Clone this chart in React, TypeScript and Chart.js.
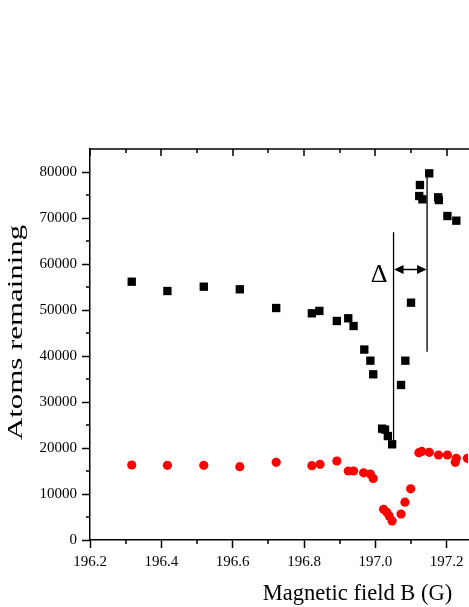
import React, { useEffect, useRef } from 'react';
import { Chart, registerables } from 'chart.js';

Chart.register(...registerables);

// ---- Data ----
const blackField = [
  196.317, 196.417, 196.519, 196.620, 196.722, 196.822, 196.843, 196.892, 196.924, 196.939,
  196.969, 196.986, 196.994, 197.019, 197.027, 197.035, 197.047, 197.072, 197.084, 197.100,
  197.123, 197.125, 197.132, 197.151, 197.176, 197.178, 197.202, 197.227,
];
const blackAtoms = [
  56150, 54130, 55070, 54500, 50430, 49280, 49800, 47610, 48200, 46520,
  41400, 38980, 36020, 24200, 24000, 22600, 20800, 33700, 38980, 51590,
  74780, 77170, 74060, 79710, 74500, 73900, 70430, 69420,
];
const redField = [
  196.317, 196.417, 196.519, 196.620, 196.722, 196.822, 196.845, 196.892, 196.924, 196.939,
  196.967, 196.986, 196.994, 197.023, 197.032, 197.039, 197.047, 197.072, 197.083, 197.099,
  197.122, 197.130, 197.151, 197.177, 197.202, 197.227, 197.224, 197.258,
];
const redAtoms = [
  16300, 16240, 16240, 15940, 16880, 16150, 16460, 17170, 15000, 15000,
  14600, 14330, 13360, 6670, 6010, 5200, 4150, 5650, 8220, 11120,
  18980, 19250, 19070, 18480, 18480, 17760, 16890, 17760,
];

const xMajorTicks = [196.2, 196.4, 196.6, 196.8, 197.0, 197.2];
const xMinorTicks = [196.3, 196.5, 196.7, 196.9, 197.1];
const yMajorTicks = [0, 10000, 20000, 30000, 40000, 50000, 60000, 70000, 80000];
const yMinorTicks = [5000, 15000, 25000, 35000, 45000, 55000, 65000, 75000];

// Δ annotation (data coordinates)
const deltaLeftB = 197.051;
const deltaLeftSpan = [20900, 66900];
const deltaRightB = 197.145;
const deltaRightSpan = [40900, 79800];
const deltaArrowAtoms = 58800;

const xTitle = 'Magnetic field B (G)';
const yTitle = 'Atoms remaining';
const deltaLabel = 'Δ';

const SERIF = '"Liberation Serif", "Times New Roman", serif';

const overlayPlugin = {
  id: 'overlay',
  afterDraw(chart: any) {
    const { ctx, chartArea, scales } = chart;
    const xs = scales.x;
    const ys = scales.y;
    const { left, right, top, bottom } = chartArea;
    ctx.save();
    ctx.strokeStyle = '#000';
    ctx.fillStyle = '#000';
    ctx.lineWidth = 1.5;
    // top frame with inward ticks
    ctx.beginPath();
    ctx.moveTo(left - 0.75, top);
    ctx.lineTo(right + 6, top);
    ctx.stroke();
    ctx.beginPath();
    xMajorTicks.forEach((v) => {
      const px = Math.round(xs.getPixelForValue(v));
      ctx.moveTo(px, top);
      ctx.lineTo(px, top + 7);
    });
    xMinorTicks.forEach((v) => {
      const px = Math.round(xs.getPixelForValue(v));
      ctx.moveTo(px, top);
      ctx.lineTo(px, top + 4);
      // bottom minor ticks (outward)
      ctx.moveTo(px, bottom);
      ctx.lineTo(px, bottom + 4);
    });
    yMinorTicks.forEach((v) => {
      const py = Math.round(ys.getPixelForValue(v));
      ctx.moveTo(left, py);
      ctx.lineTo(left - 4, py);
    });
    ctx.stroke();

    // Δ annotation
    ctx.lineWidth = 1.3;
    const x1 = xs.getPixelForValue(deltaLeftB);
    const x2 = xs.getPixelForValue(deltaRightB);
    ctx.beginPath();
    ctx.moveTo(x1, ys.getPixelForValue(deltaLeftSpan[0]));
    ctx.lineTo(x1, ys.getPixelForValue(deltaLeftSpan[1]));
    ctx.moveTo(x2, ys.getPixelForValue(deltaRightSpan[0]));
    ctx.lineTo(x2, ys.getPixelForValue(deltaRightSpan[1]));
    const ay = ys.getPixelForValue(deltaArrowAtoms);
    ctx.moveTo(x1 + 6, ay);
    ctx.lineTo(x2 - 6, ay);
    ctx.stroke();
    ctx.beginPath();
    ctx.moveTo(x1 + 0.5, ay);
    ctx.lineTo(x1 + 10, ay - 4.5);
    ctx.lineTo(x1 + 10, ay + 4.5);
    ctx.closePath();
    ctx.moveTo(x2 - 0.5, ay);
    ctx.lineTo(x2 - 10, ay - 4.5);
    ctx.lineTo(x2 - 10, ay + 4.5);
    ctx.closePath();
    ctx.fill();
    ctx.font = `26px ${SERIF}`;
    ctx.textAlign = 'center';
    ctx.textBaseline = 'alphabetic';
    ctx.fillText(deltaLabel, x1 - 14.5, ay + 12.5);

    // axis titles
    ctx.font = `22.5px ${SERIF}`;
    ctx.textAlign = 'center';
    ctx.textBaseline = 'alphabetic';
    ctx.fillText(xTitle, 357.5, 600);

    ctx.save();
    ctx.translate(22.2, (top + bottom) / 2 - 12);
    ctx.rotate(-Math.PI / 2);
    ctx.scale(1.47, 1);
    ctx.font = `21px ${SERIF}`;
    ctx.fillText(yTitle, 0, 0);
    ctx.restore();

    ctx.restore();
  },
};

export default function App() {
  const canvasRef = useRef<HTMLCanvasElement | null>(null);

  useEffect(() => {
    if (!canvasRef.current) return;
    const chart = new Chart(canvasRef.current, {
      type: 'scatter',
      data: {
        datasets: [
          {
            label: 'black',
            data: blackField.map((b, i) => ({ x: b, y: blackAtoms[i] })),
            pointStyle: 'rect',
            pointRadius: 5.9,
            pointHoverRadius: 5.9,
            backgroundColor: '#000000',
            borderWidth: 0,
          },
          {
            label: 'red',
            data: redField.map((b, i) => ({ x: b, y: redAtoms[i] })),
            pointStyle: 'circle',
            pointRadius: 4.6,
            pointHoverRadius: 4.6,
            backgroundColor: '#ff0000',
            borderWidth: 0,
          },
        ],
      },
      options: {
        animation: false,
        responsive: true,
        maintainAspectRatio: false,
        layout: { padding: { top: 149, right: 0, left: 0, bottom: 0 } },
        plugins: {
          legend: { display: false },
          tooltip: { enabled: false },
        },
        scales: {
          x: {
            type: 'linear',
            position: 'bottom',
            min: 196.2,
            max: 197.26,
            afterFit: (s: any) => {
              s.height = 67;
              s.paddingLeft = 0;
              s.paddingRight = 0;
            },
            afterBuildTicks: (s: any) => {
              s.ticks = xMajorTicks.map((v) => ({ value: v }));
            },
            ticks: {
              color: '#000',
              font: { family: SERIF, size: 15 },
              padding: 5,
              maxRotation: 0,
              autoSkip: false,
              callback: (v: any) => Number(v).toFixed(1),
            },
            grid: {
              drawOnChartArea: false,
              drawTicks: true,
              tickLength: 8,
              tickColor: '#000',
              tickWidth: 1.5,
            },
            border: { display: true, color: '#000', width: 1.5 },
            title: { display: false },
          },
          y: {
            type: 'linear',
            position: 'left',
            min: 0,
            max: 85000,
            afterFit: (s: any) => {
              s.width = 90;
            },
            afterBuildTicks: (s: any) => {
              s.ticks = yMajorTicks.map((v) => ({ value: v }));
            },
            ticks: {
              color: '#000',
              font: { family: SERIF, size: 15 },
              padding: 5,
              autoSkip: false,
              callback: (v: any) => String(v),
            },
            grid: {
              drawOnChartArea: false,
              drawTicks: true,
              tickLength: 8,
              tickColor: '#000',
              tickWidth: 1.5,
            },
            border: { display: true, color: '#000', width: 1.5 },
            title: { display: false },
          },
        },
      },
      plugins: [overlayPlugin],
    });
    return () => chart.destroy();
  }, []);

  return (
    <div style={{ position: 'absolute', left: 0, top: 0, width: 469, height: 607, overflow: 'hidden', background: '#fff' }}>
      <div style={{ position: 'relative', width: 474, height: 607 }}>
        <canvas ref={canvasRef} style={{ display: 'block' }} />
      </div>
    </div>
  );
}
